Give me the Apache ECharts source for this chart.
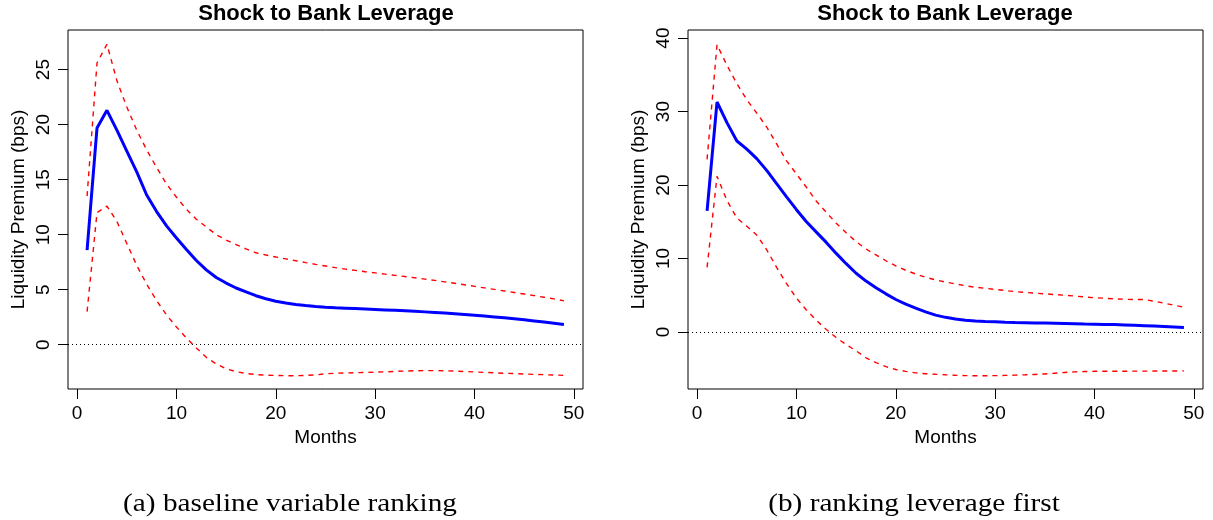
<!DOCTYPE html>
<html>
<head>
<meta charset="utf-8">
<script src="https://cdn.jsdelivr.net/npm/echarts@6/dist/echarts.min.js"></script>
<style>
html,body{margin:0;padding:0;background:#fff;}
#chart{width:1213px;height:520px;}
</style>
</head>
<body>
<div id="chart"></div>
<script>
// Months 1..49
var months = [];
for (var m = 1; m <= 49; m++) months.push(m);

var xTicks = [0, 10, 20, 30, 40, 50];
var yTicksA = [0, 5, 10, 15, 20, 25];
var yTicksB = [0, 10, 20, 30, 40];

// Panel (a): baseline variable ranking
var irfA = [8.6, 19.7, 21.3, 19.5, 17.6, 15.7, 13.6, 12.1, 10.8, 9.7,
  8.65, 7.65, 6.8, 6.1, 5.6, 5.15, 4.8, 4.45, 4.17, 3.94,
  3.78, 3.65, 3.55, 3.47, 3.41, 3.36, 3.32, 3.28, 3.24, 3.2,
  3.16, 3.12, 3.08, 3.03, 2.98, 2.93, 2.87, 2.81, 2.74, 2.67,
  2.6, 2.52, 2.44, 2.35, 2.26, 2.16, 2.06, 1.95, 1.83];
var upperA = [13.5, 25.6, 27.3, 24.0, 21.6, 19.5, 17.7, 16.1, 14.6, 13.4,
  12.3, 11.4, 10.7, 10.0, 9.5, 9.1, 8.7, 8.35, 8.15, 7.97,
  7.8, 7.63, 7.46, 7.3, 7.15, 7.0, 6.87, 6.75, 6.63, 6.52,
  6.41, 6.3, 6.19, 6.08, 5.96, 5.84, 5.71, 5.58, 5.44, 5.3,
  5.16, 5.02, 4.88, 4.74, 4.6, 4.46, 4.31, 4.16, 3.98];
var lowerA = [3.0, 12.0, 12.6, 11.2, 9.2, 7.2, 5.5, 4.0, 2.7, 1.6,
  0.6, -0.3, -1.15, -1.75, -2.2, -2.45, -2.62, -2.72, -2.77, -2.8,
  -2.82, -2.82, -2.8, -2.75, -2.65, -2.6, -2.57, -2.55, -2.53, -2.5,
  -2.47, -2.43, -2.4, -2.37, -2.36, -2.36, -2.37, -2.4, -2.44, -2.48,
  -2.52, -2.56, -2.6, -2.63, -2.67, -2.7, -2.73, -2.76, -2.79];

// Panel (b): ranking leverage first
var irfB = [16.5, 31.3, 28.5, 26.0, 24.9, 23.6, 22.0, 20.2, 18.4, 16.65,
  15.0, 13.6, 12.2, 10.7, 9.3, 8.0, 6.93, 6.03, 5.2, 4.43,
  3.8, 3.25, 2.75, 2.3, 2.0, 1.78, 1.61, 1.5, 1.44, 1.39,
  1.34, 1.3, 1.27, 1.24, 1.22, 1.2, 1.17, 1.14, 1.1, 1.07,
  1.04, 1.01, 0.97, 0.92, 0.87, 0.81, 0.75, 0.68, 0.61];
var upperB = [23.5, 39.1, 36.3, 33.8, 31.6, 29.8, 27.9, 25.6, 23.3, 21.5,
  19.7, 17.8, 16.3, 14.8, 13.5, 12.3, 11.3, 10.5, 9.7, 9.0,
  8.4, 7.9, 7.45, 7.1, 6.8, 6.55, 6.3, 6.1, 5.95, 5.8,
  5.65, 5.5, 5.4, 5.3, 5.2, 5.1, 5.0, 4.9, 4.78, 4.67,
  4.6, 4.52, 4.47, 4.42, 4.42, 4.2, 3.92, 3.65, 3.38];
var lowerB = [8.8, 21.2, 17.9, 15.5, 14.4, 13.2, 11.2, 8.8, 6.6, 4.6,
  3.0, 1.6, 0.35, -0.75, -1.7, -2.55, -3.5, -4.15, -4.7, -5.1,
  -5.35, -5.55, -5.67, -5.75, -5.82, -5.88, -5.93, -5.95, -5.95, -5.93,
  -5.9, -5.86, -5.82, -5.77, -5.7, -5.6, -5.5, -5.42, -5.37, -5.34,
  -5.33, -5.33, -5.33, -5.32, -5.32, -5.31, -5.3, -5.3, -5.28];

var titleText = "Shock to Bank Leverage";
var xName = "Months";
var yName = "Liquidity Premium (bps)";
var captions = ["(a) baseline variable ranking", "(b) ranking leverage first"];

function pairs(vals) { return months.map(function (m, i) { return [m, vals[i]]; }); }

var FONT = "'Liberation Sans', Arial, Helvetica, sans-serif";

function xAxisCfg(idx) {
  return {
    type: 'value', gridIndex: idx, min: -0.92, max: 50.92,
    name: xName, nameLocation: 'middle', nameGap: 39,
    nameTextStyle: { fontFamily: FONT, fontSize: 19, color: '#000' },
    axisLine: { show: false, onZero: false },
    axisTick: { show: true, inside: false, length: 10, customValues: xTicks, lineStyle: { color: '#000', width: 1 } },
    axisLabel: { show: true, customValues: xTicks, margin: 15, fontFamily: FONT, fontSize: 19, color: '#000' },
    splitLine: { show: false }
  };
}
function yAxisCfg(idx, mn, mx, ticks) {
  return {
    type: 'value', gridIndex: idx, min: mn, max: mx,
    name: yName, nameLocation: 'middle', nameGap: 40, nameRotate: 90,
    nameTextStyle: { fontFamily: FONT, fontSize: 19, color: '#000' },
    axisLine: { show: false, onZero: false },
    axisTick: { show: true, inside: false, length: 10, customValues: ticks, lineStyle: { color: '#000', width: 1 } },
    axisLabel: { show: true, customValues: ticks, rotate: 90, margin: 15, fontFamily: FONT, fontSize: 19, color: '#000' },
    splitLine: { show: false }
  };
}
function seriesFor(idx, irf, up, lo) {
  return [
    { type: 'line', xAxisIndex: idx, yAxisIndex: idx, data: pairs(up), showSymbol: false, symbol: 'none',
      lineStyle: { color: '#ff0000', width: 1.4, type: [5, 5] }, z: 2,
      markLine: { silent: true, symbol: ['none', 'none'], label: { show: false },
        lineStyle: { color: '#000', width: 1, type: [1, 3] }, data: [{ yAxis: 0 }] } },
    { type: 'line', xAxisIndex: idx, yAxisIndex: idx, data: pairs(lo), showSymbol: false, symbol: 'none',
      lineStyle: { color: '#ff0000', width: 1.4, type: [5, 5] }, z: 2 },
    { type: 'line', xAxisIndex: idx, yAxisIndex: idx, data: pairs(irf), showSymbol: false, symbol: 'none',
      lineStyle: { color: '#0000ff', width: 3 }, z: 3 }
  ];
}

var chart = echarts.init(document.getElementById('chart'), null, { renderer: 'canvas' });
chart.setOption({
  animation: false,
  backgroundColor: '#fff',
  title: [
    { text: titleText, left: 326, top: 3, textAlign: 'center', padding: 0,
      textStyle: { fontFamily: FONT, fontSize: 22, fontWeight: 'bold', color: '#000' } },
    { text: titleText, left: 945, top: 3, textAlign: 'center', padding: 0,
      textStyle: { fontFamily: FONT, fontSize: 22, fontWeight: 'bold', color: '#000' } }
  ],
  grid: [
    { left: 68, top: 30, width: 515, height: 359, show: true, borderColor: '#000', borderWidth: 1, backgroundColor: 'transparent', containLabel: false },
    { left: 688, top: 30, width: 515, height: 359, show: true, borderColor: '#000', borderWidth: 1, backgroundColor: 'transparent', containLabel: false }
  ],
  xAxis: [xAxisCfg(0), xAxisCfg(1)],
  yAxis: [yAxisCfg(0, -4.03, 28.6, yTicksA), yAxisCfg(1, -7.75, 41.1, yTicksB)],
  series: seriesFor(0, irfA, upperA, lowerA).concat(seriesFor(1, irfB, upperB, lowerB)),
  graphic: [
    { type: 'text', x: 290, y: 504, scaleX: 1.17, style: { text: captions[0], font: "25px 'Liberation Serif', serif", fill: '#000', align: 'center', verticalAlign: 'middle' } },
    { type: 'text', x: 914, y: 504, scaleX: 1.17, style: { text: captions[1], font: "25px 'Liberation Serif', serif", fill: '#000', align: 'center', verticalAlign: 'middle' } }
  ]
});
</script>
</body>
</html>
